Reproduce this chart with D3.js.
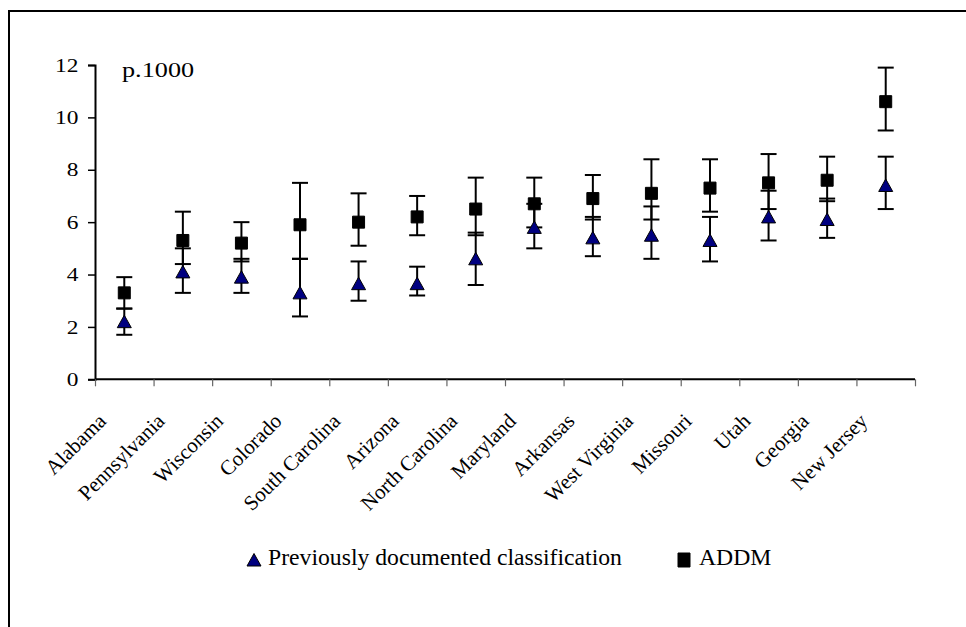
<!DOCTYPE html>
<html>
<head>
<meta charset="utf-8">
<script src="https://cdn.jsdelivr.net/npm/d3@7"></script>
<style>
  html, body { margin: 0; padding: 0; background: #fff; }
  svg { display: block; }
</style>
</head>
<body>
<svg id="chart" width="966" height="627"></svg>
<script>
const categories = ["Alabama", "Pennsylvania", "Wisconsin", "Colorado", "South Carolina", "Arizona",
  "North Carolina", "Maryland", "Arkansas", "West Virginia", "Missouri", "Utah", "Georgia", "New Jersey"];
const addm     = [3.3, 5.3, 5.2, 5.9, 6.0, 6.2, 6.5, 6.7, 6.9, 7.1, 7.3, 7.5, 7.6, 10.6];
const addmLow  = [2.7, 4.4, 4.5, 4.6, 5.1, 5.5, 5.5, 5.8, 6.1, 6.1, 6.4, 6.5, 6.8, 9.5];
const addmHigh = [3.9, 6.4, 6.0, 7.5, 7.1, 7.0, 7.7, 7.7, 7.8, 8.4, 8.4, 8.6, 8.5, 11.9];
const prev     = [2.2, 4.1, 3.9, 3.3, 3.65, 3.65, 4.6, 5.8, 5.4, 5.5, 5.3, 6.2, 6.1, 7.4];
const prevLow  = [1.7, 3.3, 3.3, 2.4, 3.0, 3.2, 3.6, 5.0, 4.7, 4.6, 4.5, 5.3, 5.4, 6.5];
const prevHigh = [2.7, 5.0, 4.6, 4.6, 4.5, 4.3, 5.6, 6.7, 6.2, 6.6, 6.2, 7.2, 6.9, 8.5];
const yTicks = [0, 2, 4, 6, 8, 10, 12];
const unitLabel = "p.1000";
const seriesNames = ["Previously documented classification", "ADDM"];

const FONT = "'Liberation Serif', 'Times New Roman', serif";
const svg = d3.select("#chart");

// outer frame (extends past the picture on right and bottom)
svg.append("rect").attr("x", 9).attr("y", 11).attr("width", 1000).attr("height", 700)
  .attr("fill", "none").attr("stroke", "#000").attr("stroke-width", 2);

const plotL = 95, plotR = 915, plotT = 65, plotB = 379.3;
const x = d3.scaleBand().domain(categories).range([plotL, plotR]).padding(0);
const xEdge = d3.scaleLinear().domain([0, categories.length]).range([plotL, plotR]);
const y = d3.scaleLinear().domain([0, 12]).range([plotB, plotT]);

// y axis
const yAxis = svg.append("g").attr("transform", `translate(${plotL},0)`)
  .call(d3.axisLeft(y).tickValues(yTicks).tickSize(7).tickPadding(0).tickFormat(d3.format("d")));
yAxis.select(".domain").attr("stroke", "#000").attr("stroke-width", 2);
yAxis.selectAll(".tick line").attr("stroke", "#000").attr("stroke-width", 1.5);
yAxis.selectAll("text")
  .style("font-family", FONT).style("font-size", "18px")
  .attr("x", 0).attr("dy", "0.34em").attr("fill", "#000")
  .attr("transform", "translate(-16.5,0) scale(1.3,1)");

// x axis ticks at category boundaries
const xAxis = svg.append("g").attr("transform", `translate(0,${plotB})`)
  .call(d3.axisBottom(xEdge).tickValues(d3.range(categories.length + 1)).tickSize(7).tickFormat(""));
xAxis.select(".domain").attr("stroke", "#000").attr("stroke-width", 2)
  .attr("d", `M${plotL},0H${plotR}`);
xAxis.selectAll(".tick line").attr("stroke", "#666").attr("stroke-width", 1.2);

// x labels
const xLab = svg.append("g").attr("transform", `translate(0,${plotB})`)
  .call(d3.axisBottom(x).tickSize(0).tickFormat(d => d));
xLab.select(".domain").remove();
xLab.selectAll("text")
  .style("font-family", FONT).style("font-size", "21px").attr("fill", "#000")
  .attr("text-anchor", "end").attr("dy", 0).attr("y", 0)
  .attr("transform", "translate(-17,43) rotate(-45)");

// error bars
const capW = 8;
function errBars(cls, lo, hi) {
  const g = svg.append("g").attr("class", cls).attr("stroke", "#000").attr("stroke-width", 2).attr("fill", "none");
  categories.forEach((c, i) => {
    const cx = x(c) + x.bandwidth() / 2;
    g.append("line").attr("x1", cx).attr("x2", cx).attr("y1", y(lo[i])).attr("y2", y(hi[i]));
    g.append("line").attr("x1", cx - capW).attr("x2", cx + capW).attr("y1", y(lo[i])).attr("y2", y(lo[i]));
    g.append("line").attr("x1", cx - capW).attr("x2", cx + capW).attr("y1", y(hi[i])).attr("y2", y(hi[i]));
  });
}
errBars("err-prev", prevLow, prevHigh);
errBars("err-addm", addmLow, addmHigh);

const triPath = "M0,-6.5L7,6L-7,6Z";
const sqPath = "M-6,-6H6V6H-6Z";

svg.append("g").selectAll("path").data(prev).join("path")
  .attr("d", triPath)
  .attr("transform", (d, i) => `translate(${x(categories[i]) + x.bandwidth() / 2},${y(d)})`)
  .attr("fill", "#000080").attr("stroke", "#000").attr("stroke-width", 1);

svg.append("g").selectAll("path").data(addm).join("path")
  .attr("d", sqPath)
  .attr("transform", (d, i) => `translate(${x(categories[i]) + x.bandwidth() / 2},${y(d)})`)
  .attr("fill", "#000").attr("stroke", "#000").attr("stroke-width", 1);

// unit label
svg.append("text").attr("transform", "translate(122,77) scale(1.22,1)")
  .style("font-family", FONT).style("font-size", "21.5px").attr("fill", "#000").text(unitLabel);

// legend
const leg = svg.append("g");
leg.append("path").attr("d", triPath).attr("transform", "translate(254,560)")
  .attr("fill", "#000080").attr("stroke", "#000").attr("stroke-width", 1);
leg.append("text").attr("x", 268).attr("y", 565)
  .style("font-family", FONT).style("font-size", "23.7px").attr("fill", "#000").text(seriesNames[0]);
leg.append("path").attr("d", "M-6,-7H6V7H-6Z").attr("transform", "translate(684,560)")
  .attr("fill", "#000").attr("stroke", "#000").attr("stroke-width", 1);
leg.append("text").attr("x", 699).attr("y", 565)
  .style("font-family", FONT).style("font-size", "23.7px").attr("fill", "#000").text(seriesNames[1]);
</script>
</body>
</html>
